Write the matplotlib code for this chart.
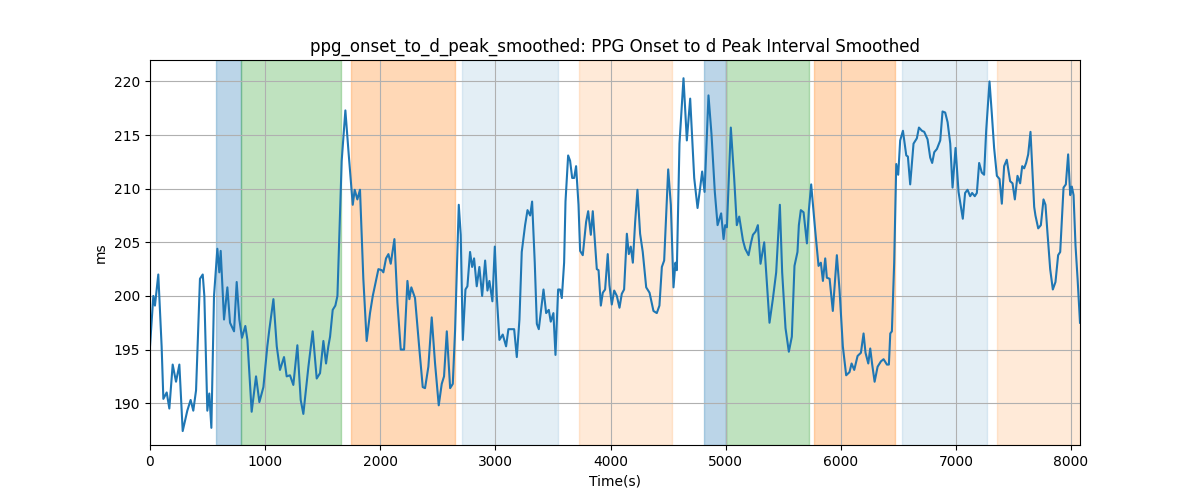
import matplotlib
matplotlib.use("Agg")
import matplotlib.pyplot as plt

# time (s) and smoothed interval (ms)
t = [0, 29, 43, 72, 101, 116, 145, 168, 197, 226, 255, 284, 324, 353, 376, 400,
     434, 458, 472, 498, 515, 533, 556, 585, 602, 614, 643, 672, 695, 730, 753,
     776, 799, 828, 846, 883, 921, 950, 985, 1019, 1037, 1072, 1101, 1129, 1164,
     1187, 1216, 1245, 1280, 1309, 1332, 1376, 1413, 1448, 1477, 1506, 1529,
     1549, 1564, 1587, 1610, 1628, 1665, 1697, 1726, 1761, 1778, 1801, 1824,
     1853, 1882, 1911, 1935, 1984, 2013, 2027, 2050, 2071, 2091, 2123, 2149,
     2178, 2207, 2236, 2253, 2270, 2302, 2340, 2369, 2389, 2418, 2447, 2476,
     2508, 2534, 2554, 2578, 2607, 2630, 2650, 2682, 2699, 2717, 2740, 2757,
     2780, 2798, 2815, 2838, 2861, 2885, 2911, 2931, 2948, 2974, 2995, 3012,
     3035, 3064, 3093, 3113, 3142, 3163, 3186, 3209, 3229, 3258, 3279, 3302,
     3319, 3342, 3360, 3377, 3418, 3441, 3464, 3481, 3504, 3522, 3545, 3562,
     3577, 3597, 3609, 3632, 3649, 3667, 3684, 3701, 3722, 3736, 3759, 3788,
     3806, 3829, 3846, 3881, 3896, 3916, 3933, 3953, 3976, 3991, 4011, 4032,
     4055, 4078, 4098, 4118, 4142, 4159, 4176, 4194, 4214, 4234, 4257, 4280,
     4310, 4339, 4373, 4402, 4425, 4446, 4466, 4501, 4524, 4547, 4564, 4576,
     4599, 4634, 4663, 4692, 4727, 4756, 4779, 4796, 4817, 4851, 4877, 4906,
     4930, 4961, 4982, 4996, 5011, 5045, 5074, 5097, 5118, 5150, 5170, 5199,
     5219, 5237, 5260, 5280, 5303, 5335, 5358, 5381, 5410, 5439, 5471, 5491,
     5520, 5549, 5575, 5598, 5624, 5636, 5653, 5677, 5706, 5723, 5743, 5764,
     5778, 5807, 5827, 5845, 5865, 5879, 5903, 5931, 5966, 5989, 6018, 6047,
     6076, 6094, 6117, 6146, 6175, 6198, 6215, 6239, 6256, 6273, 6294, 6320,
     6349, 6372, 6401, 6418, 6430, 6444, 6464, 6482, 6499, 6516, 6540, 6569,
     6583, 6603, 6632, 6661, 6679, 6705, 6725, 6754, 6777, 6794, 6812, 6835,
     6864, 6884, 6907, 6928, 6951, 6971, 6997, 7023, 7060, 7080, 7101, 7124,
     7141, 7164, 7182, 7202, 7225, 7245, 7263, 7292, 7312, 7332, 7356, 7379,
     7399, 7419, 7442, 7471, 7492, 7512, 7535, 7558, 7576, 7593, 7610, 7628,
     7648, 7680, 7691, 7715, 7738, 7761, 7778, 7796, 7819, 7842, 7865, 7888,
     7906, 7935, 7955, 7975, 7993, 8007, 8022, 8039, 8057, 8078]
ms = [195.3, 200.0, 199.1, 202.0, 195.3, 190.4, 191.0, 189.5, 193.6, 192.0,
      193.6, 187.4, 189.3, 190.3, 189.3, 191.2, 201.6, 202.0, 200.0, 189.3,
      190.9, 187.7, 200.0, 204.4, 202.2, 204.2, 197.8, 200.8, 197.5, 196.7,
      201.3, 197.8, 196.1, 197.2, 195.9, 189.2, 192.5, 190.1, 191.5, 195.3,
      196.9, 199.7, 195.3, 193.1, 194.3, 192.5, 192.6, 191.7, 195.4, 190.3,
      189.0, 193.4, 196.7, 192.3, 192.8, 195.8, 193.7, 195.3, 196.2, 198.7,
      199.1, 200.0, 212.6, 217.3, 213.2, 208.5, 209.9, 209.0, 209.9, 201.6,
      195.8, 198.4, 200.0, 202.5, 202.4, 202.2, 203.5, 203.9, 203.0, 205.3,
      199.4, 195.0, 195.0, 201.4, 199.7, 200.8, 199.8, 195.0, 191.5, 191.4,
      193.4, 198.0, 193.7, 189.8, 191.8, 192.5, 196.7, 191.4, 191.8, 196.8,
      208.5, 205.7, 195.9, 200.6, 200.9, 204.1, 202.7, 203.5, 200.9, 202.7,
      200.0, 203.3, 200.5, 201.4, 199.5, 204.6, 200.0, 195.9, 196.4, 195.3,
      196.9, 196.9, 196.9, 194.3, 197.8, 204.1, 206.6, 208.0, 207.5, 208.8,
      203.1, 197.4, 196.9, 200.6, 198.4, 198.7, 197.6, 198.4, 194.5, 200.6,
      200.6, 199.8, 203.1, 208.8, 213.1, 212.6, 211.0, 211.0, 212.1, 208.5,
      204.2, 203.8, 206.9, 207.9, 205.7, 207.9, 202.5, 202.4, 199.1, 200.3,
      200.6, 203.9, 201.0, 199.2, 200.5, 200.0, 198.9, 200.2, 200.6, 205.8,
      203.9, 204.6, 203.1, 206.9, 209.9, 205.8, 204.1, 200.8, 200.3, 198.6,
      198.4, 199.1, 202.7, 203.3, 211.8, 208.5, 200.8, 203.1, 202.4, 214.2,
      220.3, 214.5, 218.4, 211.0, 208.2, 210.1, 211.6, 209.7, 218.7, 215.1,
      209.7, 206.6, 207.7, 205.3, 206.6, 206.4, 215.7, 211.0, 206.6, 207.4,
      205.2, 204.4, 203.8, 204.9, 205.7, 206.0, 206.6, 203.0, 205.0, 201.3,
      197.5, 199.7, 202.2, 208.5, 202.2, 197.0, 194.8, 196.2, 202.8, 204.1,
      206.6, 208.0, 207.8, 204.9, 208.0, 210.4, 207.8, 206.1, 202.8, 203.1,
      201.4, 203.5, 201.7, 201.6, 198.6, 203.8, 200.6, 195.3, 192.6, 192.9,
      193.7, 193.1, 194.4, 194.7, 196.5, 194.7, 193.7, 195.1, 193.6, 192.0,
      193.4, 193.9, 194.1, 193.6, 193.6, 196.5, 196.7, 203.1, 212.3, 211.3,
      214.5, 215.4, 213.1, 213.0, 210.4, 214.2, 214.7, 215.7, 215.4, 215.3,
      214.6, 212.9, 212.4, 213.4, 213.7, 214.5, 217.2, 217.1, 216.2, 214.2,
      210.1, 213.8, 209.7, 207.2, 209.6, 209.9, 209.3, 209.6, 209.3, 209.6,
      212.4, 211.5, 211.3, 215.4, 220.0, 217.0, 213.8, 211.2, 210.9, 208.6,
      212.1, 212.7, 210.7, 210.5, 209.0, 211.2, 210.5, 212.1, 211.9, 212.4,
      213.2, 215.3, 208.3, 207.5, 206.3, 206.6, 209.0, 208.5, 205.8, 202.5,
      200.6, 201.3, 203.8, 204.1, 210.1, 210.4, 213.2, 209.4, 210.2, 209.4,
      204.7, 201.6, 197.5]

# shaded phases: start, end, colour, alpha
span_start = [573, 793, 1746, 2711, 3727, 4813, 5002, 5769, 6536, 7359]
span_end = [793, 1657, 2647, 3542, 4533, 5002, 5725, 6470, 7269, 8078]
span_color = ["C0", "C2", "C1", "C0", "C1", "C0", "C2", "C1", "C0", "C1"]
span_alpha = [0.3, 0.3, 0.3, 0.12, 0.16, 0.3, 0.3, 0.3, 0.12, 0.16]

fig, ax = plt.subplots(figsize=(12, 5), dpi=100)
for s, e, c, a in zip(span_start, span_end, span_color, span_alpha):
    ax.axvspan(s, e, color=c, alpha=a)
ax.plot(t, ms, color="C0", linewidth=1.5)
ax.set_xlim(0, t[-1])
ax.set_ylim(186.1, 222.0)
ax.grid(True)
ax.set_title("ppg_onset_to_d_peak_smoothed: PPG Onset to d Peak Interval Smoothed")
ax.set_xlabel("Time(s)")
ax.set_ylabel("ms")
fig.savefig("out.png")
